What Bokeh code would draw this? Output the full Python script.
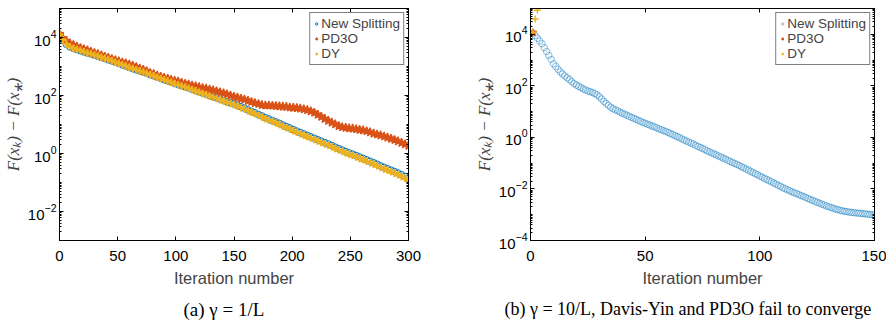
from bokeh.plotting import figure
from bokeh.models import Range1d, FixedTicker, LinearAxis, LogAxis, Title
from bokeh.layouts import row
from bokeh.embed import file_html
from bokeh.resources import INLINE

# ---------------- data ----------------
# panel (a): gamma = 1/L, markers every 3rd iteration
left_iter = list(range(0, 301, 3))
left_new_splitting = [
    12600, 8130, 5750, 4680, 4170, 3800, 3470, 3160, 2880, 2690,
    2450, 2240, 2040, 1870, 1700, 1550, 1390, 1270, 1130, 1030,
    918, 838, 764, 698, 637, 582, 520, 475, 424, 387,
    346, 316, 289, 259, 237, 217, 198, 181, 162, 149,
    133, 121, 111, 99.5, 91.0, 83.2, 74.5, 68.2, 60.9, 55.8,
    51.0, 45.7, 40.8, 36.5, 31.9, 28.5, 25.4, 22.2, 19.8, 17.3,
    15.5, 13.8, 12.3, 11.0, 9.60, 8.55, 7.64, 6.67, 5.95, 5.31,
    4.74, 4.22, 3.77, 3.36, 3.00, 2.68, 2.39, 2.14, 1.90, 1.66,
    1.48, 1.32, 1.18, 1.05, 0.955, 0.853, 0.759, 0.678, 0.605, 0.540,
    0.482, 0.430, 0.375, 0.335, 0.299, 0.267, 0.239, 0.213, 0.186, 0.163,
    0.137,
]
left_pd3o = [
    13200, 9550, 7590, 6310, 5500, 4900, 4370, 3980, 3630, 3240,
    2950, 2690, 2450, 2190, 2000, 1820, 1660, 1510, 1380, 1290,
    1170, 1070, 955, 851, 776, 692, 603, 550, 490, 447,
    407, 380, 347, 324, 302, 275, 257, 240, 224, 209,
    195, 182, 174, 162, 151, 141, 129, 120, 110, 100,
    91.2, 85.1, 77.6, 72.4, 66.1, 60.3, 55.0, 51.3, 46.8, 45.7,
    45.7, 44.7, 43.7, 42.7, 41.7, 40.7, 38.9, 38.0, 37.2, 35.5,
    33.9, 31.6, 28.8, 25.7, 21.9, 18.6, 15.8, 13.5, 11.7, 10.2,
    8.91, 8.13, 7.76, 7.41, 7.24, 6.92, 6.61, 6.31, 5.89, 5.37,
    4.90, 4.57, 4.27, 3.89, 3.55, 3.24, 2.95, 2.63, 2.34, 2.09,
    1.86,
]
left_dy = [
    12600, 8320, 5890, 4790, 4270, 3890, 3550, 3240, 2950, 2750,
    2510, 2290, 2090, 1910, 1740, 1580, 1410, 1290, 1150, 1050,
    933, 851, 776, 708, 646, 589, 525, 479, 427, 389,
    347, 316, 288, 257, 234, 214, 195, 178, 158, 145,
    129, 117, 107, 95.5, 87.1, 79.4, 70.8, 64.6, 57.5, 52.5,
    47.9, 42.7, 38.0, 33.9, 29.5, 26.3, 23.4, 20.4, 18.2, 15.8,
    14.1, 12.6, 11.2, 10.0, 8.71, 7.76, 6.92, 6.03, 5.37, 4.79,
    4.27, 3.80, 3.39, 3.02, 2.69, 2.40, 2.14, 1.91, 1.70, 1.48,
    1.32, 1.17, 1.05, 0.933, 0.851, 0.759, 0.676, 0.603, 0.537, 0.479,
    0.427, 0.380, 0.331, 0.295, 0.263, 0.234, 0.209, 0.186, 0.162, 0.141,
    0.120,
]

# panel (b): gamma = 10/L
right_iter = list(range(1, 151))
right_new_splitting = [
    11200, 8910, 7080, 5500, 4270, 3020, 2140, 1510, 1050, 724,
    562, 437, 347, 288, 240, 204, 174, 145, 123, 107,
    95.5, 85.1, 75.9, 69.2, 63.1, 58.9, 55.0, 50.1, 44.7, 38.0,
    30.9, 25.1, 20.9, 17.4, 14.8, 12.9, 11.7, 10.7, 9.55, 8.71,
    7.94, 7.24, 6.61, 6.03, 5.50, 5.01, 4.57, 4.17, 3.80, 3.55,
    3.24, 3.02, 2.75, 2.57, 2.34, 2.14, 2.00, 1.82, 1.70, 1.55,
    1.41, 1.29, 1.17, 1.07, 0.977, 0.871, 0.794, 0.724, 0.661, 0.603,
    0.550, 0.490, 0.447, 0.407, 0.372, 0.339, 0.302, 0.275, 0.251, 0.229,
    0.209, 0.191, 0.174, 0.158, 0.145, 0.129, 0.117, 0.107, 0.0977, 0.0891,
    0.0813, 0.0724, 0.0661, 0.0589, 0.0537, 0.0479, 0.0437, 0.0389, 0.0355, 0.0316,
    0.0288, 0.0257, 0.0234, 0.0209, 0.0191, 0.0170, 0.0155, 0.0138, 0.0126, 0.0112,
    0.0102, 0.00933, 0.00851, 0.00776, 0.00708, 0.00661, 0.00603, 0.00550, 0.00513, 0.00468,
    0.00427, 0.00389, 0.00363, 0.00331, 0.00302, 0.00282, 0.00257, 0.00240, 0.00219, 0.00204,
    0.00191, 0.00178, 0.00166, 0.00158, 0.00148, 0.00141, 0.00135, 0.00132, 0.00126, 0.00123,
    0.00120, 0.00117, 0.00115, 0.00112, 0.00110, 0.00107, 0.00105, 0.00102, 0.00100, 0.000977,
]
right_pd3o_iter = [1]
right_pd3o = [11500]
right_dy_iter = [1, 2, 3]
right_dy = [12000, 39000, 85000]

series_names = ["New Splitting", "PD3O", "DY"]
left_x_ticks = [0, 50, 100, 150, 200, 250, 300]
right_x_ticks = [0, 50, 100, 150]
left_y_ticks = [1e-2, 1e0, 1e2, 1e4]
right_y_ticks = [1e-4, 1e-2, 1e0, 1e2, 1e4]
caption_a = "(a)  \u03b3 = 1/L"
caption_b = "(b)  \u03b3 = 10/L, Davis-Yin and PD3O fail to converge"
y_label = "F(x\u2096) \u2212 F(x\u204e)"
x_label = "Iteration number"

# ---------------- styling ----------------
BLUE = "#0072BD"
ORANGE = "#D95319"
YELLOW = "#EDB120"
SANS = "Liberation Sans"
SERIF = "Liberation Serif"
minor_y = [m * 10.0 ** e for e in range(-5, 6) for m in range(1, 10)]


def style_axis(ax, labels=True, standoff=4):
    ax.axis_line_color = "black"
    ax.axis_line_width = 1
    ax.major_tick_line_color = "black"
    ax.minor_tick_line_color = "black"
    ax.major_tick_in = 4
    ax.major_tick_out = 0
    ax.minor_tick_in = 2
    ax.minor_tick_out = 0
    ax.major_label_text_font = SANS
    ax.major_label_text_color = "black"
    if labels:
        ax.major_label_text_font_size = "15px"
        ax.major_label_standoff = standoff
    else:
        ax.major_label_text_font_size = "1px"
        ax.major_label_text_alpha = 0
        ax.major_label_standoff = 0


def make_panel(xmax, ymin, x_ticks, y_ticks, b_left, b_right, fw):
    p = figure(
        frame_width=fw, frame_height=232,
        x_range=Range1d(0, xmax), y_range=Range1d(ymin, 1e5),
        y_axis_type="log", output_backend="svg", toolbar_location=None,
        min_border_left=b_left, min_border_right=b_right,
        min_border_top=8, min_border_bottom=66,
    )
    p.xgrid.visible = False
    p.ygrid.visible = False
    p.outline_line_color = "black"
    p.background_fill_color = "white"
    p.border_fill_color = "white"

    p.xaxis.ticker = FixedTicker(ticks=x_ticks, minor_ticks=[])
    p.yaxis.ticker = FixedTicker(ticks=y_ticks, minor_ticks=minor_y)
    for ax in p.xaxis:
        style_axis(ax, standoff=10)
        ax.axis_label = x_label
        ax.axis_label_text_font = SANS
        ax.axis_label_text_font_style = "normal"
        ax.axis_label_text_font_size = "16.5px"
        ax.axis_label_standoff = 5
    for ax in p.yaxis:
        style_axis(ax, standoff=3)
        ax.axis_label = y_label
        ax.axis_label_text_font = SERIF
        ax.axis_label_text_font_style = "italic"
        ax.axis_label_text_font_size = "17px"
        ax.axis_label_standoff = 2

    top = LinearAxis(ticker=FixedTicker(ticks=x_ticks, minor_ticks=[]))
    style_axis(top, labels=False)
    p.add_layout(top, "above")
    right = LogAxis(ticker=FixedTicker(ticks=y_ticks, minor_ticks=minor_y))
    style_axis(right, labels=False)
    p.add_layout(right, "right")
    return p


def style_legend(p):
    lg = p.legend[0]
    lg.location = "top_right"
    lg.margin = 4
    lg.padding = 3
    lg.spacing = 0
    lg.border_line_color = "black"
    lg.border_line_width = 1
    lg.background_fill_color = "white"
    lg.label_text_font = SANS
    lg.label_text_font_size = "13.5px"
    lg.label_height = 15
    lg.glyph_height = 15
    lg.glyph_width = 6
    lg.label_standoff = 2


# ---------------- panel (a) ----------------
p1 = make_panel(300, 1e-3, left_x_ticks, left_y_ticks, 51, 38, 349)
p1.scatter(left_iter, left_new_splitting, marker="circle", size=6.5,
           fill_color=None, line_color=BLUE, line_width=1.0,
           legend_label=series_names[0])
p1.scatter(left_iter, left_pd3o, marker="star", size=9,
           fill_color=ORANGE, line_color=ORANGE, line_width=1.4,
           legend_label=series_names[1])
p1.scatter(left_iter, left_dy, marker="cross", size=7.5,
           line_color=YELLOW, line_width=2.4,
           legend_label=series_names[2])
style_legend(p1)
p1.add_layout(Title(text=caption_a, align="left", offset=124, standoff=14,
                    text_font=SERIF, text_font_style="normal",
                    text_font_size="19px", text_color="black"), "below")

# ---------------- panel (b) ----------------
p2 = make_panel(150, 1e-4, right_x_ticks, right_y_ticks, 84, 12, 344)
p2.scatter(right_iter, right_new_splitting, marker="circle", size=6.5,
           fill_color=None, line_color=BLUE, line_width=0.6, line_alpha=0.75,
           legend_label=series_names[0])
p2.scatter(right_pd3o_iter, right_pd3o, marker="star", size=8,
           fill_color=None, line_color=ORANGE, line_width=1.4,
           legend_label=series_names[1])
p2.scatter(right_dy_iter, right_dy, marker="cross", size=7,
           line_color=YELLOW, line_width=1.4,
           legend_label=series_names[2])
style_legend(p2)
p2.add_layout(Title(text=caption_b, align="left", offset=-26, standoff=14,
                    text_font=SERIF, text_font_style="normal",
                    text_font_size="18px", text_color="black"), "below")

layout = row(p1, p2)
open("out.html", "w").write(file_html(layout, INLINE))
